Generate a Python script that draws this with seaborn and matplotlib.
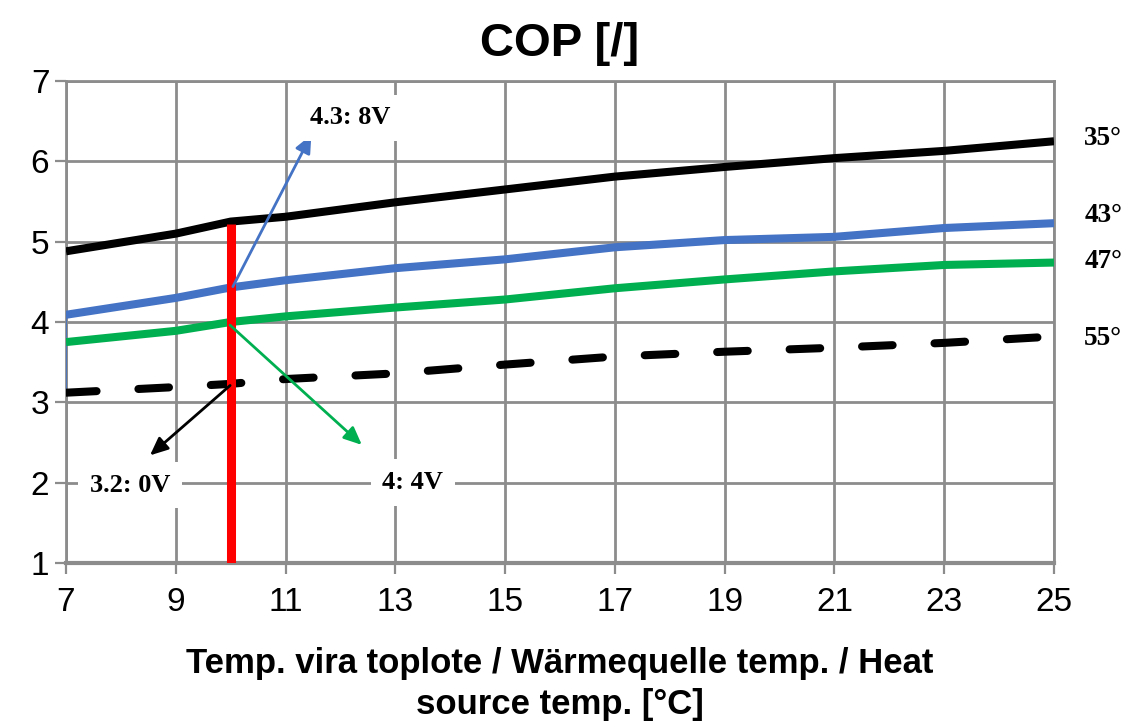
import matplotlib
matplotlib.use("Agg")
import matplotlib.pyplot as plt
import seaborn as sns
import pandas as pd

# ---- data ----
temps = [7, 9, 10, 11, 13, 15, 17, 19, 21, 23, 25]
cop_35 = [4.88, 5.10, 5.25, 5.31, 5.49, 5.65, 5.81, 5.93, 6.04, 6.13, 6.25]
cop_43 = [4.09, 4.30, 4.43, 4.52, 4.67, 4.78, 4.93, 5.02, 5.06, 5.17, 5.23]
cop_47 = [3.75, 3.89, 4.00, 4.07, 4.18, 4.28, 4.42, 4.53, 4.63, 4.71, 4.74]
cop_55 = [3.12, 3.19, 3.23, 3.29, 3.36, 3.47, 3.57, 3.63, 3.68, 3.74, 3.82]
series_labels = ["35°", "43°", "47°", "55°"]
label_y = [6.29, 5.33, 4.75, 3.80]
x_ticks = [7, 9, 11, 13, 15, 17, 19, 21, 23, 25]
y_ticks = [1, 2, 3, 4, 5, 6, 7]
marker_temp = 10
marker_top = 5.22
ann_texts = ["4.3: 8V", "4: 4V", "3.2: 0V"]
ann_start = [(10.04, 4.44), (9.99, 3.96), (9.99, 3.21)]
ann_tip = [(11.47, 6.33), (12.39, 2.47), (8.53, 2.34)]
ann_text_pos = [(12.17, 6.54), (13.32, 2.00), (8.17, 1.97)]

BLACK = "#000000"
BLUE = "#4472C4"
GREEN = "#00B050"
RED = "#FF0000"
GRID = "#8C8C8C"

sns.set_theme(style="white")
plt.rcParams["font.family"] = ["Liberation Sans", "DejaVu Sans"]
plt.rcParams["text.color"] = "black"
plt.rcParams["axes.labelcolor"] = "black"
plt.rcParams["axes.titlecolor"] = "black"

fig = plt.figure(figsize=(11.25, 7.24), dpi=100)
ax = fig.add_axes([66 / 1125, 1 - 563 / 724, (1054 - 66) / 1125, (563 - 81) / 724])

df = pd.DataFrame({"temp": temps, "c35": cop_35, "c43": cop_43,
                   "c47": cop_47, "c55": cop_55})

lw = 5.8
sns.lineplot(data=df, x="temp", y="c35", ax=ax, color=BLACK, linewidth=lw,
             solid_capstyle="butt", zorder=4)
sns.lineplot(data=df, x="temp", y="c43", ax=ax, color=BLUE, linewidth=lw,
             solid_capstyle="butt", zorder=4)
sns.lineplot(data=df, x="temp", y="c47", ax=ax, color=GREEN, linewidth=lw,
             solid_capstyle="butt", zorder=4)
l55 = sns.lineplot(data=df, x="temp", y="c55", ax=ax, color=BLACK, linewidth=lw,
                   zorder=4).lines[-1]
l55.set_dashes((3.8, 5.2))
l55.set_dash_capstyle("round")

# thin blue vertical at the left edge
ax.plot([temps[0], temps[0]], [cop_43[0], cop_55[0]], color=BLUE, lw=1.2, zorder=3)

# red marker line
ax.plot([marker_temp, marker_temp], [y_ticks[0], marker_top], color=RED,
        lw=6.5, solid_capstyle="butt", zorder=5)

# annotations
arrow_cols = [BLUE, GREEN, BLACK]
for txt, s, t, p, c in zip(ann_texts, ann_start, ann_tip, ann_text_pos, arrow_cols):
    ax.annotate("", xy=t, xytext=s,
                arrowprops=dict(arrowstyle="-|>,head_length=0.9,head_width=0.4",
                                color=c, lw=2.0, shrinkA=0, shrinkB=0),
                zorder=6)
    ax.text(p[0], p[1], txt, ha="center", va="center", fontsize=19,
            fontweight="bold", family=["Liberation Serif", "DejaVu Serif"],
            color="black", zorder=6,
            bbox=dict(boxstyle="square,pad=0.45", fc="white", ec="none"))

# right-side series labels
for lab, yv in zip(series_labels, label_y):
    ax.text(25.55, yv, lab, ha="left", va="center", fontsize=19.5,
            fontweight="bold", family=["Liberation Serif", "DejaVu Serif"],
            color="black", clip_on=False)

ax.set_xlim(7, 25)
ax.set_ylim(1, 7)
ax.set_xticks(x_ticks)
ax.set_yticks(y_ticks)
ax.grid(True, color=GRID, linewidth=2.0, zorder=0)
ax.set_axisbelow(True)
for sp in ax.spines.values():
    sp.set_color(GRID)
    sp.set_linewidth(2.0)
ax.spines["bottom"].set_linewidth(3.0)
ax.tick_params(axis="both", which="major", direction="out", length=8, width=1.6,
               color=GRID, labelsize=24, labelcolor="black", pad=4,
               bottom=True, left=True)
ax.tick_params(axis="x", pad=9)

ax.set_xlabel("Temp. vira toplote / Wärmequelle temp. / Heat\nsource temp. [°C]",
              fontsize=25, fontweight="bold", labelpad=21, linespacing=1.32,
              color="black")
ax.set_ylabel("")
ax.set_title("COP [/]", fontsize=34, fontweight="bold", pad=18, color="black")

fig.savefig("out.png", dpi=100)
